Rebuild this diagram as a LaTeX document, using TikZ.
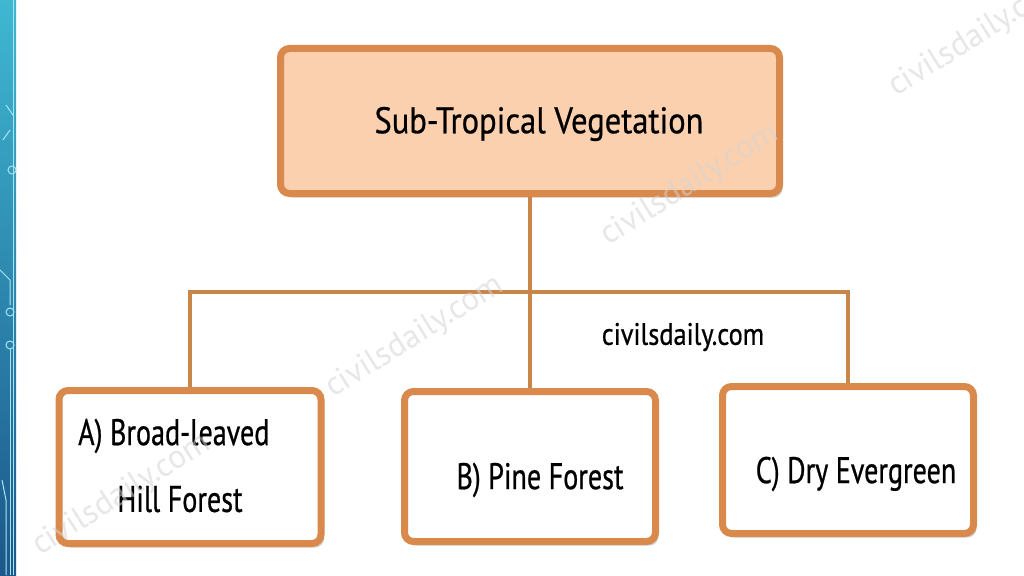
\documentclass[tikz,border=0pt]{standalone}
\usepackage{fontspec}
\setmainfont{PT Sans}
\newfontfamily\cfont[FakeStretch=0.76, FakeBold=0.6]{PT Sans}
\newfontfamily\tfont[FakeStretch=0.88, FakeBold=0.6]{PT Sans}
\newfontfamily\sfont[FakeStretch=0.85, FakeBold=0.6]{PT Sans}
\newfontfamily\wfont{PT Sans}
\usetikzlibrary{shadows}
\definecolor{bord}{HTML}{D8894B}
\definecolor{peach}{HTML}{FBD0AF}
\definecolor{link}{HTML}{C9864A}
\definecolor{wm}{HTML}{D4D4D4}
\definecolor{stripetop}{HTML}{3FB8D2}
\definecolor{stripebot}{HTML}{1C578A}
\definecolor{circuit}{HTML}{A6E6F7}
\tikzset{
  box/.style={draw=bord, line width=7pt, rounded corners=9pt, fill=white,
    drop shadow={shadow xshift=3pt, shadow yshift=-4pt, fill=black!35, opacity=0.5}},
  topbox/.style={box, fill=peach},
  lbl/.style={font=\cfont\fontsize{37}{40}\selectfont, text=black, inner sep=0pt},
  conn/.style={draw=link, line width=4pt},
  wmark/.style={font=\wfont\fontsize{33}{35}\selectfont, text=wm, rotate=32, opacity=0.55, inner sep=0pt},
  circ/.style={draw=circuit, line width=1pt}
}
\begin{document}
\begin{tikzpicture}[x=1pt,y=-1pt]
\useasboundingbox (0,0) rectangle (1024,575);
\fill[white] (0,0) rectangle (1024,575);
% left decorative stripe
\shade[top color=stripetop, bottom color=stripebot] (0,0) rectangle (16,575);
\draw[circ] (13,0) -- (13,575);
\draw[circ] (13,115) -- (6,105);
\draw[circ] (10,130) -- (3,140);
\draw[circ] (12,170) circle (4);
\draw[circ] (0,270) -- (10,280) -- (10,305);
\draw[circ] (10,312) circle (4);
\draw[circ] (10,345) circle (4);
\draw[circ] (10,349) -- (10,575);
\draw[circ] (2,480) -- (6,500) -- (6,575);
% boxes
\node[topbox, minimum width=499pt, minimum height=145pt] (top) at (530,121) {};
\node[box, minimum width=262pt, minimum height=153pt] (A) at (190,467) {};
\node[box, minimum width=251pt, minimum height=150pt] (B) at (530,466.5) {};
\node[box, minimum width=251pt, minimum height=147pt] (C) at (848,460) {};
% connectors
\coordinate (j) at (530,292);
\draw[conn] (top.south) -- (B.north);
\draw[conn] (A.north) |- (j) -| (C.north);
% texts
\node[lbl, font=\tfont\fontsize{37}{40}\selectfont] (ttop) at (539,124) {Sub-Tropical Vegetation};
\node[lbl, anchor=west] (ta1) at (78,436) {A) Broad-leaved};
\node[lbl] (ta2) at (180,499) {Hill Forest};
\node[lbl] (tb) at (540,480) {B) Pine Forest};
\node[lbl] (tc) at (856,474) {C) Dry Evergreen};
\node[lbl, font=\sfont\fontsize{31}{33}\selectfont] (site) at (683,337) {civilsdaily.com};
% watermarks
\node[wmark] (w1) at (978,36) {civilsdaily.com};
\node[wmark] (w2) at (690,185) {civilsdaily.com};
\node[wmark] (w3) at (415,337) {civilsdaily.com};
\node[wmark] (w4) at (122,495) {civilsdaily.com};
\end{tikzpicture}
\end{document}
